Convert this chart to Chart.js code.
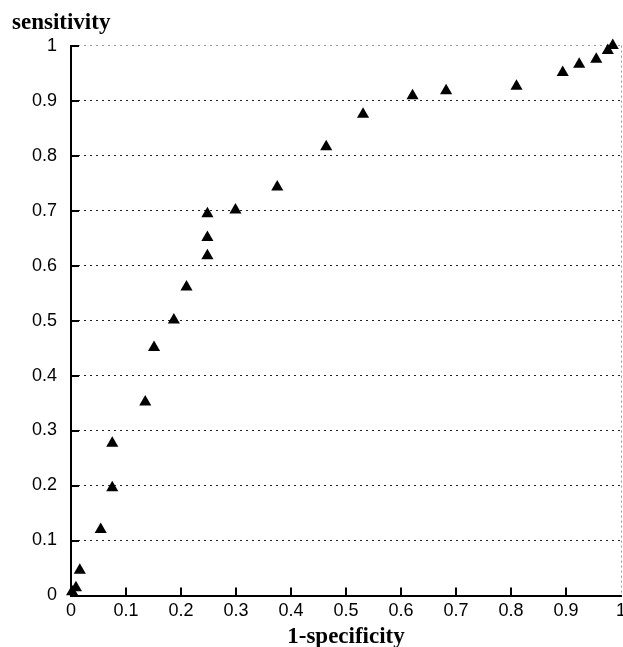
<!DOCTYPE html>
<html>
<head>
<meta charset="utf-8">
<script src="https://cdn.jsdelivr.net/npm/chart.js@4"></script>
<style>
  body { margin: 0; background: #fff; }
  #wrap { width: 623px; height: 647px; }
</style>
</head>
<body>
<div id="wrap"><canvas id="roc" width="623" height="647"></canvas></div>
<script>
// ROC points
const fpr = [0.002, 0.009, 0.016, 0.054, 0.075, 0.075, 0.135, 0.151, 0.187, 0.210, 0.248, 0.248, 0.248,
             0.299, 0.375, 0.464, 0.531, 0.621, 0.682, 0.810, 0.894, 0.924, 0.955, 0.976, 0.985];
const tpr = [0.007, 0.014, 0.046, 0.120, 0.196, 0.277, 0.352, 0.451, 0.501, 0.561, 0.618, 0.651, 0.694,
             0.701, 0.743, 0.816, 0.875, 0.909, 0.918, 0.926, 0.951, 0.966, 0.975, 0.991, 1.000];

const tickLabels = ["0", "0.1", "0.2", "0.3", "0.4", "0.5", "0.6", "0.7", "0.8", "0.9", "1"];

const points = fpr.map((x, i) => ({x: x, y: tpr[i]}));

// no extra room for the end labels (the "1" runs off the edge like in the scan)
const noEdgePadding = s => {
  s._calculatePadding = function () {
    this.paddingLeft = this.paddingRight = this.paddingTop = this.paddingBottom = 0;
  };
};

// short solid tick marks pointing into the plot
const innerTicks = {
  id: "innerTicks",
  afterDraw(chart) {
    const ctx = chart.ctx;
    const xs = chart.scales.x, ys = chart.scales.y;
    const area = chart.chartArea;
    ctx.save();
    ctx.setLineDash([]);
    ctx.strokeStyle = "#000";
    ctx.lineWidth = 2;
    ctx.beginPath();
    xs.ticks.forEach(t => {
      if (t.value <= 0 || t.value >= 1) return;
      const px = Math.round(xs.getPixelForValue(t.value));
      ctx.moveTo(px, area.bottom);
      ctx.lineTo(px, area.bottom - 8);
    });
    ys.ticks.forEach(t => {
      if (t.value <= 0) return;
      const py = Math.round(ys.getPixelForValue(t.value));
      ctx.moveTo(area.left, py);
      ctx.lineTo(area.left + 8, py);
    });
    ctx.stroke();
    ctx.restore();
  }
};

new Chart(document.getElementById("roc"), {
  type: "scatter",
  data: {
    datasets: [{
      label: "ROC",
      data: points,
      pointStyle: "triangle",
      pointRadius: 7,
      pointHoverRadius: 7,
      backgroundColor: "#000",
      borderColor: "#000",
      borderWidth: 0,
      clip: false
    }]
  },
  options: {
    responsive: false,
    animation: false,
    layout: { autoPadding: false, padding: { left: 12, right: 2, top: 0, bottom: 0 } },
    plugins: {
      legend: { display: false },
      tooltip: { enabled: false },
      title: {
        display: true,
        text: "sensitivity",
        align: "start",
        color: "#000",
        font: { family: "Liberation Serif", size: 23, weight: "bold" },
        padding: { top: 9, bottom: 9 }
      }
    },
    scales: {
      x: {
        type: "linear",
        min: 0,
        max: 1,
        beforeFit: noEdgePadding,
        afterFit: s => { s.height = 51.5; },
        grid: {
          drawTicks: false,
          color: c => (c.tick && c.tick.value === 1) ? "#999" : "rgba(0,0,0,0)",
          lineWidth: 1
        },
        border: { display: true, color: "#000", width: 2, dash: [2, 3] },
        ticks: {
          stepSize: 0.1,
          padding: 5,
          color: "#000",
          maxRotation: 0,
          font: { family: "Liberation Sans", size: 18 },
          callback: (v, i) => tickLabels[i]
        },
        title: {
          display: true,
          text: "1-specificity",
          color: "#000",
          font: { family: "Liberation Serif", size: 23, weight: "bold", lineHeight: 0.9 },
          padding: { top: 0, bottom: 0 }
        }
      },
      y: {
        type: "linear",
        min: 0,
        max: 1,
        beforeFit: noEdgePadding,
        afterFit: s => { s.width = 59; },
        grid: {
          drawTicks: false,
          color: c => (c.tick && c.tick.value === 1) ? "#999" : (c.tick && c.tick.value === 0 ? "rgba(0,0,0,0)" : "#222"),
          lineWidth: 1
        },
        border: { display: true, color: "#000", width: 2, dash: [2, 4] },
        ticks: {
          stepSize: 0.1,
          padding: 14,
          color: "#000",
          font: { family: "Liberation Sans", size: 18 },
          callback: (v, i) => tickLabels[i]
        }
      }
    }
  },
  plugins: [innerTicks]
});
</script>
</body>
</html>
